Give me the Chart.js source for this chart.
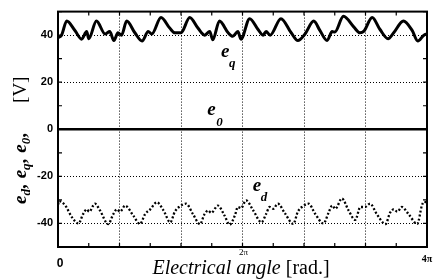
<!DOCTYPE html>
<html>
<head>
<meta charset="utf-8">
<script src="https://cdn.jsdelivr.net/npm/chart.js@4"></script>
<style>
  html, body { margin: 0; padding: 0; background: #fff; }
</style>
</head>
<body>
<canvas id="chart" width="440" height="280"></canvas>
<script>
// electrical angle in degrees (0 .. 720 = 0 .. 4pi), voltages in V
var eqAngle = [0, 7, 17, 33, 46, 56, 60, 75, 92, 101, 109, 117, 124, 134, 150, 164, 176, 183, 201, 218, 228, 240, 257, 273, 286, 296, 302, 315, 332, 341, 351, 357, 374, 390, 400, 406, 414, 435, 455, 468, 482, 499, 511, 525, 535, 540, 557, 577, 589, 597, 613, 628, 644, 655, 674, 691, 702, 714, 720];
var eqVolt = [39, 40, 46, 42, 38.3, 41.5, 38.5, 46, 40.5, 41.5, 37.7, 41, 40, 46, 41, 37.5, 41.5, 40.5, 47.5, 43, 41, 41, 47.5, 43, 40, 41.5, 38, 46, 41, 39.5, 41.5, 38.3, 47, 42.5, 40, 41.5, 40, 47, 41, 37.7, 40.5, 46, 42, 37.7, 41.5, 41.3, 48, 43.5, 41, 41.7, 47.5, 42.5, 38.5, 41, 46, 42, 37.5, 40, 40.5];

var edAngle = [0, 2, 14, 27, 40, 49, 56, 61, 72, 82, 98, 108, 115, 121, 131, 147, 160, 170, 180, 193, 206, 219, 228, 236, 250, 263, 277, 286, 293, 299, 312, 325, 335, 345, 351, 357, 367, 381, 397, 406, 413, 420, 429, 442, 459, 468, 476, 489, 502, 518, 528, 535, 541, 554, 567, 580, 590, 599, 609, 622, 639, 648, 655, 662, 671, 684, 701, 710, 714, 720];
var edVolt = [-32, -30.5, -32.3, -37.3, -40, -36, -34, -35, -31.6, -34.5, -40.3, -36, -34, -35, -32.4, -36.7, -40.2, -36, -34, -31, -34.5, -39.5, -35, -33, -31.6, -35.9, -40.3, -36, -34.5, -35.5, -32.4, -36.7, -40.5, -36.7, -33, -33.5, -30.2, -34.5, -39.5, -36, -33, -33.8, -31.6, -35.4, -40.2, -35, -33, -31.6, -36, -40, -35.4, -32.4, -33.8, -29.4, -34.5, -38.5, -33, -33, -31.6, -36, -40.3, -35.4, -34, -35, -33, -36, -40.2, -32.4, -30.8, -31];

var e0Angle = [0, 720];
var e0Volt = [0, 0];

var xTickVals = [0, 360, 720];
var xTickText = ["0", "2\u03c0", "4\u03c0"];

function pts(a, v) {
	return a.map(function(x, i) { return {x: x, y: v[i]}; });
}

var serif = "'Liberation Serif', 'Times New Roman', serif";
var sans = "'Liberation Sans', Arial, sans-serif";

// frame, inward ticks and all the rich text
var decor = {
	id: "decor",
	afterDraw: function(chart) {
		var ctx = chart.ctx;
		var a = chart.chartArea;
		var xs = chart.scales.x, ys = chart.scales.y;
		ctx.save();
		ctx.strokeStyle = "#000";
		ctx.lineWidth = 2;
		ctx.strokeRect(a.left, a.top, a.right - a.left, a.bottom - a.top);

		// minor ticks pointing inward
		ctx.lineWidth = 1.2;
		ctx.beginPath();
		for (var v = -50; v <= 50; v += 10) {
			var py = ys.getPixelForValue(v);
			ctx.moveTo(a.left, py); ctx.lineTo(a.left + 4, py);
			ctx.moveTo(a.right, py); ctx.lineTo(a.right - 4, py);
		}
		for (var d = 0; d <= 720; d += 60) {
			var px = xs.getPixelForValue(d);
			ctx.moveTo(px, a.bottom); ctx.lineTo(px, a.bottom - 4);
			ctx.moveTo(px, a.top); ctx.lineTo(px, a.top + 4);
		}
		ctx.stroke();

		// x tick labels
		ctx.fillStyle = "#000";
		ctx.textAlign = "center";
		ctx.textBaseline = "middle";
		ctx.font = "bold 12px " + sans;
		ctx.fillText(xTickText[0], xs.getPixelForValue(xTickVals[0]) + 2, 264);
		ctx.font = "9px " + serif;
		ctx.fillText(xTickText[1], xs.getPixelForValue(xTickVals[1]) + 1, 253);
		ctx.font = "bold 10px " + serif;
		ctx.fillText(xTickText[2], xs.getPixelForValue(xTickVals[2]), 259);

		// x axis title
		ctx.textBaseline = "alphabetic";
		ctx.textAlign = "left";
		ctx.font = "italic 20px " + serif;
		var t1 = "Electrical angle ";
		var w1 = ctx.measureText(t1).width;
		ctx.font = "20px " + serif;
		var t2 = "[rad.]";
		var w2 = ctx.measureText(t2).width;
		var x0 = 241 - (w1 + w2) / 2;
		ctx.font = "italic 20px " + serif;
		ctx.fillText(t1, x0, 274);
		ctx.font = "20px " + serif;
		ctx.fillText(t2, x0 + w1, 274);

		// y axis title, rotated
		ctx.save();
		ctx.translate(26, 204);
		ctx.rotate(-Math.PI / 2);
		var segs = [
			["e", "italic bold 19px", 0, 0], ["d", "italic bold 13px", 4, 0], [",", "bold 19px", 0, 6],
			["e", "italic bold 19px", 0, 0], ["q", "italic bold 13px", 4, 0], [",", "bold 19px", 0, 6],
			["e", "italic bold 19px", 0, 0], ["0", "italic bold 13px", 4, 0], [",", "bold 19px", 0, 30],
			["[V]", "19px", 0, 0]
		];
		var cx = 0;
		segs.forEach(function(s) {
			ctx.font = s[1] + " " + serif;
			ctx.fillText(s[0], cx, s[2]);
			cx += ctx.measureText(s[0]).width + s[3];
		});
		ctx.restore();

		// series labels
		function lab(main, sub, ang, volt, dx, dy) {
			var px = xs.getPixelForValue(ang), py = ys.getPixelForValue(volt);
			ctx.font = "italic bold 19px " + serif;
			ctx.fillText(main, px, py);
			ctx.font = "italic bold 13px " + serif;
			ctx.fillText(sub, px + dx, py + dy);
		}
		lab("e", "q", 318, 30.6, 8, 10);
		lab("e", "0", 291, 6, 9, 11);
		lab("e", "d", 380, -26.4, 8, 10);
		ctx.restore();
	}
};

var ctx = document.getElementById("chart").getContext("2d");
new Chart(ctx, {
	type: "line",
	data: {
		datasets: [{
			label: "eq",
			data: pts(eqAngle, eqVolt),
			borderColor: "#000",
			borderWidth: 3,
			pointRadius: 0,
			cubicInterpolationMode: "monotone",
			fill: false
		}, {
			label: "ed",
			data: pts(edAngle, edVolt),
			borderColor: "#000",
			borderWidth: 2.3,
			borderDash: [2, 2],
			pointRadius: 0,
			cubicInterpolationMode: "monotone",
			fill: false
		}, {
			label: "e0",
			data: pts(e0Angle, e0Volt),
			borderColor: "#000",
			borderWidth: 2.5,
			pointRadius: 0,
			fill: false
		}]
	},
	options: {
		responsive: false,
		animation: false,
		devicePixelRatio: 1,
		layout: { padding: { top: 11, right: 13, left: 0, bottom: 0 } },
		plugins: {
			legend: { display: false },
			tooltip: { enabled: false }
		},
		scales: {
			x: {
				type: "linear",
				min: 0,
				max: 720,
				afterFit: function(s) { s.height = 33; },
				border: { display: false, dash: [1, 2] },
				grid: {
					drawTicks: false,
					lineWidth: 1,
					color: function(c) {
						var v = c.tick ? c.tick.value : 0;
						return (v > 0 && v < 720) ? "#000" : "rgba(0,0,0,0)";
					}
				},
				ticks: { display: false, stepSize: 120 }
			},
			y: {
				min: -50,
				max: 50,
				afterFit: function(s) { s.width = 58; },
				border: { display: false, dash: [1, 2] },
				grid: {
					drawTicks: false,
					lineWidth: 1,
					color: function(c) {
						var v = c.tick ? c.tick.value : 0;
						return (v !== 0 && Math.abs(v) < 50 && v % 20 === 0) ? "#000" : "rgba(0,0,0,0)";
					}
				},
				ticks: {
					stepSize: 10,
					padding: 5,
					color: "#000",
					font: { family: sans, size: 11, weight: "bold" },
					callback: function(v) {
						return (v % 20 === 0 && Math.abs(v) < 50) ? v : "";
					}
				}
			}
		}
	},
	plugins: [decor]
});
</script>
</body>
</html>
